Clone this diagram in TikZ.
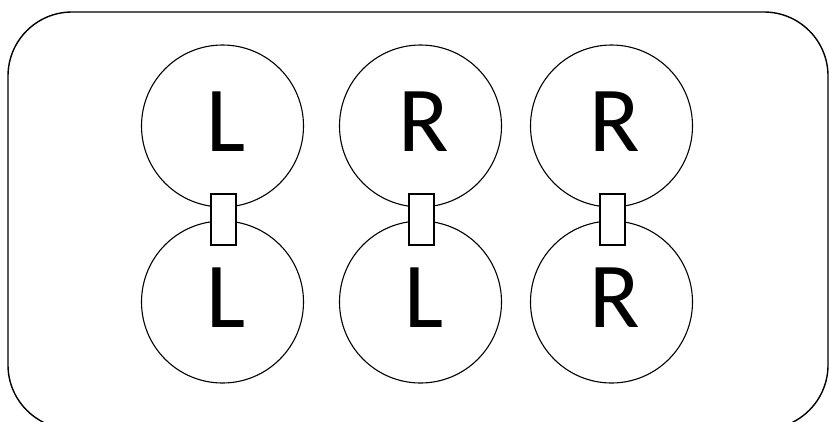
\documentclass[tikz,border=0pt]{standalone}
\usepackage{fontspec}
\setmainfont{Carlito}
\begin{document}
\begin{tikzpicture}[x=1pt,y=-1pt,
  wheel/.style={draw, circle, line width=1.1pt, minimum size=162pt, inner sep=0pt},
  letter/.style={font=\fontsize{93}{93}\selectfont, inner sep=0pt},
  link/.style={draw, fill=white, line width=1.1pt, minimum width=25pt, minimum height=51pt, inner sep=0pt}]
  \useasboundingbox (0,0) rectangle (829,421);
  \clip (0,0) rectangle (829,421);
  % outer frame
  \draw[line width=1.4pt, rounded corners=64pt] (8,12) rectangle (828,429);
  % three pairs of circles, each joined by a small link
  \foreach \i/\cx/\top/\bot in {1/222.5/L/L, 2/420.5/R/L, 3/611.5/R/R} {
    \node[wheel] (t\i) at (\cx,126) {};
    \node[wheel] (b\i) at (\cx,302) {};
    \node[letter] (tl\i) at (\cx+3.5,122) {\top};
    \node[letter] (bl\i) at (\cx+3.5,298) {\bot};
    \node[link] (k\i) at (\cx+1,219.5) {};
  }
\end{tikzpicture}
\end{document}
